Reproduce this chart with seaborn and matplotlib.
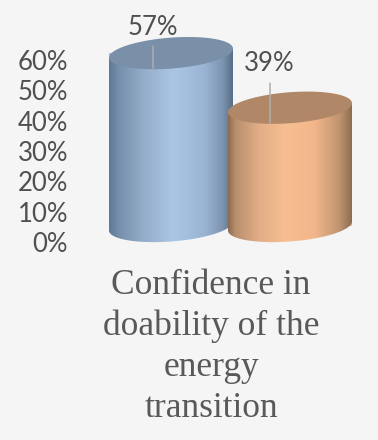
import numpy as np
import pandas as pd
import matplotlib
matplotlib.use("Agg")
import matplotlib.pyplot as plt
import seaborn as sns
from matplotlib.colors import LinearSegmentedColormap
from matplotlib.patches import Polygon

series = ["Series 1", "Series 2"]
values = [57, 39]
tick_values = [0, 10, 20, 30, 40, 50, 60]
tick_labels = ["0%", "10%", "20%", "30%", "40%", "50%", "60%"]
category = "Confidence in\ndoability of the\nenergy\ntransition"

W, H = 378, 440
BG = "#f5f5f5"
TXT = "#595959"
NUM = "#505050"
X0, XU = 171.0, 119.0       # px of first bar centre, px per category
Y0, YU = 242.0, 3.033       # px from top of value 0, px per value unit
base_lift = 16 / YU         # the 3D floor sits above the axis zero
tilt = 4.5 / YU
semi_y = 15.5 / YU

sns.set_theme(style="white", rc={"figure.facecolor": BG, "axes.facecolor": BG})
plt.rcParams["font.family"] = ["Lato", "DejaVu Sans"]

fig = plt.figure(figsize=(W / 100, H / 100), dpi=100)
ax = fig.add_axes([68 / W, 0, 1 - 68 / W, 1])
df = pd.DataFrame({"series": series, "value": values})
sns.barplot(data=df, x="series", y="value", hue="series",
            palette=["#a6c0de", "#f3b88c"], width=124 / XU,
            bottom=base_lift, legend=False, ax=ax, linewidth=0, zorder=1)

cmaps = [
    LinearSegmentedColormap.from_list("b", [(0, "#5f7a96"), (0.08, "#7690ac"), (0.28, "#94adc9"),
                                            (0.52, "#abc6e5"), (0.78, "#9ab3d2"), (0.92, "#7c94b0"), (1, "#586e87")]),
    LinearSegmentedColormap.from_list("o", [(0, "#8c6a4e"), (0.06, "#b98f6e"), (0.25, "#e2ae87"),
                                            (0.47, "#f7bf91"), (0.7, "#f2b68b"), (0.9, "#c0946f"), (1, "#8c6d52")]),
]
top_cols = ["#7a90a8", "#b08868"]
grad = np.linspace(0, 1, 256).reshape(1, -1)
t_low = np.linspace(np.pi, 2 * np.pi, 100)
t_all = np.linspace(0, 2 * np.pi, 200)

for i, bar in enumerate(ax.patches):
    xl, w = bar.get_x(), bar.get_width()
    cx, a = xl + w / 2, w / 2
    yb = bar.get_y()
    yt = yb + bar.get_height()
    low = np.c_[cx + a * np.cos(t_low), yb + tilt * np.cos(t_low) + semi_y * np.sin(t_low)]
    body = np.vstack([[xl, yt - tilt], low, [xl + w, yt + tilt]])
    z = 2 + 2 * i
    im = ax.imshow(grad, cmap=cmaps[i], aspect="auto", zorder=z,
                   extent=(xl, xl + w, yb - 40, yt + 40))
    clip = Polygon(body, closed=True, transform=ax.transData)
    im.set_clip_path(clip)
    top = np.c_[cx + a * np.cos(t_all), yt + tilt * np.cos(t_all) + semi_y * np.sin(t_all)]
    ax.add_patch(Polygon(top, closed=True, fc=top_cols[i], ec="none", zorder=z + 0.5))

ax.set_xlim((68 - X0) / XU, (W - X0) / XU)
ax.set_ylim((Y0 - H) / YU, Y0 / YU)
ax.set_yticks(tick_values, tick_labels, fontsize=18.5, color=NUM)
ax.set_xticks([])
ax.set_xlabel("")
ax.set_ylabel("")
ax.tick_params(axis="y", length=0, pad=0)
sns.despine(ax=ax, left=True, bottom=True)

# data labels and leader lines
label_x = [(153 - X0) / XU, 1 + (269.5 - X0 - XU) / XU]
label_dy = [(Y0 - 27) / YU, (Y0 - 63) / YU]
leader_top = [(Y0 - 46) / YU, (Y0 - 83) / YU]
leader_end = [(Y0 - 68) / YU, (Y0 - 123) / YU]
for i, v in enumerate(values):
    x = label_x[i]
    ax.plot([x, x], [leader_end[i], leader_top[i]], color="#aeaeae", lw=1.1, zorder=10)
    ax.text(x, label_dy[i], f"{v}%", ha="center", va="center", fontsize=18.5,
            color=NUM, zorder=11)

ax.text((211 - X0) / XU, (Y0 - 347) / YU, category, ha="center", va="center",
        fontsize=25.5, color=TXT, family=["Liberation Serif", "DejaVu Serif"], linespacing=1.31)

fig.savefig("out.png", dpi=100, facecolor=BG)
